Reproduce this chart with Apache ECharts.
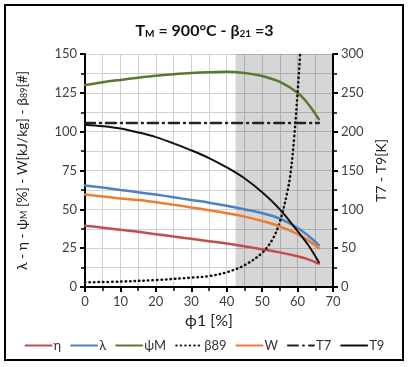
<!DOCTYPE html>
<html><head><meta charset="utf-8">
<script src="https://cdn.jsdelivr.net/npm/echarts@6/dist/echarts.min.js"></script>
<style>html,body{margin:0;padding:0;background:#fff}#c{width:409px;height:367px}</style>
</head><body><div id="c"></div>
<script>
const phi = [0,5,10,15,20,25,30,35,40,45,50,55,60,63,66];
const eta = [39.5,38.2,36.8,35.5,34,32.5,31,29.5,28,26.3,24.3,22.3,19.8,17.8,15];
const lambda = [65.3,64,62.5,61,59.5,57.8,56,54.3,52.3,50,47.5,44,38,33,27];
const psiM = [130,131.8,133.3,134.7,136,137,137.8,138.3,138.5,137.8,135.8,132,125,117.8,108];
const W = [59.5,58.3,57,56,54.6,53,51.2,49.4,47.5,45.3,42.5,39,34,30,25];
const T9 = [209,207,204,199,193,185,176,166,154,140,122,100,72,54,32];
const phiT7 = [0,66];
const T7 = [211,211];
const phiBeta = [0,10,20,30,35,40,45,50,53,55,57,58,59,60,61];
const beta89 = [3,3.5,4.5,6,7,9.5,14,22,31,42,60,73,95,125,160];
const shadeFrom = 42.5, shadeTo = 70;

const pair = (xs, ys) => xs.map((x,i)=>[x, ys[i]]);
const FONT = 'Lato, "Noto Sans", "DejaVu Sans", sans-serif';
const chart = echarts.init(document.getElementById('c'));
const axisCommon = {
  axisLine:{show:true,lineStyle:{color:'#000',width:2}},
  axisTick:{show:true,length:5,lineStyle:{color:'#000',width:2}},
  minorTick:{show:true,splitNumber:2,length:4,lineStyle:{color:'#000',width:1.5}},
  axisLabel:{color:'#404040',fontSize:13,fontFamily:FONT},
  nameTextStyle:{color:'#222',fontSize:14,fontFamily:FONT}
};
const line = (name, data, color, width, type, yIdx) => ({
  name, type:'line', data, yAxisIndex:yIdx||0, symbol:'none', smooth:0.35,
  lineStyle:{color, width, type:type||'solid', cap:'round'}, itemStyle:{color}
});
chart.setOption({
  backgroundColor:'#fff',
  animation:false,
  textStyle:{fontFamily:FONT},
  title:{text:'T{s|M} = 900°C - β{s|21} =3', left:'center', top:18,
    textStyle:{fontSize:16,fontWeight:'bold',color:'#111',fontFamily:FONT,
      rich:{s:{fontSize:10,fontWeight:'bold',verticalAlign:'bottom',padding:[6,0,0,0],fontFamily:FONT}}}},
  grid:{left:85,right:76,top:54,bottom:80},
  graphic:[{type:'rect',shape:{x:5,y:5,width:398,height:355},style:{fill:'none',stroke:'#000',lineWidth:2},z:100}],
  legend:{bottom:10,left:'center',itemWidth:26,itemHeight:10,itemGap:9,
    itemStyle:{opacity:0},
    textStyle:{fontSize:13,color:'#333',fontFamily:FONT,padding:[0,0,0,-3]},
    data:['η','λ','ψM','β89','W','T7','T9']},
  xAxis:Object.assign({}, axisCommon, {type:'value',min:0,max:70,interval:10,
    name:'ϕ1 [%]',nameLocation:'middle',nameGap:25,
    nameTextStyle:{color:'#222',fontSize:16,fontFamily:FONT},
    splitLine:{show:true,lineStyle:{color:'#d0d0d0',width:1}},
    minorSplitLine:{show:true,lineStyle:{color:'#d0d0d0',width:1}}}),
  yAxis:[
    Object.assign({}, axisCommon, {type:'value',min:0,max:150,interval:25,position:'left',
      name:'λ - η - ψ{s|M} [%] - W[kJ/kg] - β{s|89}[#]',nameLocation:'middle',nameGap:56,nameRotate:90,
      nameTextStyle:{color:'#222',fontSize:14,fontFamily:FONT,rich:{s:{fontSize:9,verticalAlign:'bottom',fontFamily:FONT}}},
      splitLine:{show:true,lineStyle:{color:'#d0d0d0',width:1}},
      minorSplitLine:{show:true,lineStyle:{color:'#d0d0d0',width:1}}}),
    Object.assign({}, axisCommon, {type:'value',min:0,max:300,interval:50,position:'right',
      name:'T7 - T9[K]',nameLocation:'middle',nameGap:40,nameRotate:90,
      splitLine:{show:false},minorSplitLine:{show:false}})
  ],
  series:[
    Object.assign(line('η', pair(phi,eta), '#c0504d', 2.5), {
      markArea:{silent:true,itemStyle:{color:'rgba(0,0,0,0.16)'},data:[[{xAxis:shadeFrom},{xAxis:shadeTo}]]}}),
    line('λ', pair(phi,lambda), '#4f81bd', 2.5),
    line('ψM', pair(phi,psiM), '#5b7a2e', 2.5),
    line('β89', pair(phiBeta,beta89), '#111', 2.5, [0.5,4]),
    line('W', pair(phi,W), '#ed7d31', 2.5),
    line('T7', pair(phiT7,T7), '#222', 2.5, [10,5,1,5], 1),
    line('T9', pair(phi,T9), '#111', 2, 'solid', 1)
  ]
});
</script></body></html>
